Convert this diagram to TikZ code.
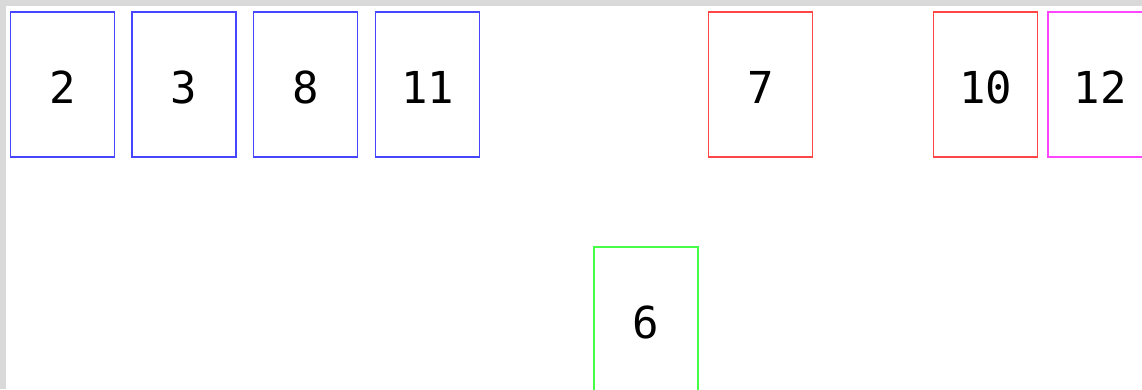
\documentclass[tikz,border=0pt]{standalone}
\usepackage{fontspec}
\setmonofont{DejaVu Sans Mono}
\definecolor{gblue}{HTML}{4646FF}
\definecolor{gred}{HTML}{FF4646}
\definecolor{gmag}{HTML}{FF46FF}
\definecolor{ggreen}{HTML}{46FF46}
\definecolor{gframe}{HTML}{D9D9D9}
\begin{document}
\begin{tikzpicture}[x=1pt,y=-1pt,
  card/.style={draw, line width=1.5pt, minimum width=104pt, minimum height=145pt, inner sep=0pt,
    text height=38pt, text depth=0pt,
    font=\ttfamily\fontsize{44}{44}\selectfont, text=black}]
\useasboundingbox (0,0) rectangle (1142,389);
\fill[white] (0,0) rectangle (1142,389);
\fill[gframe] (0,0) rectangle (1142,6);
\fill[gframe] (0,0) rectangle (6,389);
\node[card, draw=gblue] (n2) at (62.5,84.5) {2};
\node[card, draw=gblue] (n3) at (184,84.5) {3};
\node[card, draw=gblue] (n8) at (305.5,84.5) {8};
\node[card, draw=gblue] (n11) at (427.5,84.5) {11};
\node[card, draw=gred] (n7) at (760.5,84.5) {7};
\node[card, draw=gred] (n10) at (985.5,84.5) {10};
\node[card, draw=gmag] (n12) at (1100,84.5) {12};
\node[card, draw=ggreen] (n6) at (646,319.5) {6};
\end{tikzpicture}
\end{document}
